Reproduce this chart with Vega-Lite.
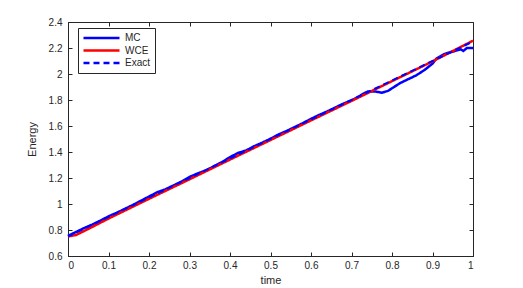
{
  "$schema": "https://vega.github.io/schema/vega-lite/v6.json",
  "width": 405,
  "height": 234,
  "autosize": {"type": "none"},
  "padding": {"left": 68, "top": 22, "right": 50, "bottom": 32},
  "background": "white",
  "config": {
    "font": "Liberation Sans",
    "view": {"stroke": "#262626", "strokeWidth": 1},
    "axis": {
      "grid": false,
      "domainColor": "#262626",
      "tickColor": "#262626",
      "labelColor": "#262626",
      "titleColor": "#262626",
      "labelFontSize": 10,
      "titleFontSize": 11,
      "titleFontWeight": "normal",
      "tickSize": -4,
      "labelFont": "Liberation Sans",
      "titleFont": "Liberation Sans"
    }
  },
  "data": {
    "values": [
      {"t": 0, "E": 0.755, "series": "MC"},
      {"t": 0.02, "E": 0.785, "series": "MC"},
      {"t": 0.04, "E": 0.815, "series": "MC"},
      {"t": 0.06, "E": 0.842, "series": "MC"},
      {"t": 0.08, "E": 0.872, "series": "MC"},
      {"t": 0.10, "E": 0.905, "series": "MC"},
      {"t": 0.12, "E": 0.932, "series": "MC"},
      {"t": 0.14, "E": 0.962, "series": "MC"},
      {"t": 0.16, "E": 0.992, "series": "MC"},
      {"t": 0.18, "E": 1.025, "series": "MC"},
      {"t": 0.20, "E": 1.057, "series": "MC"},
      {"t": 0.22, "E": 1.09, "series": "MC"},
      {"t": 0.24, "E": 1.112, "series": "MC"},
      {"t": 0.26, "E": 1.142, "series": "MC"},
      {"t": 0.28, "E": 1.172, "series": "MC"},
      {"t": 0.30, "E": 1.208, "series": "MC"},
      {"t": 0.32, "E": 1.235, "series": "MC"},
      {"t": 0.34, "E": 1.258, "series": "MC"},
      {"t": 0.36, "E": 1.29, "series": "MC"},
      {"t": 0.38, "E": 1.322, "series": "MC"},
      {"t": 0.40, "E": 1.36, "series": "MC"},
      {"t": 0.42, "E": 1.393, "series": "MC"},
      {"t": 0.44, "E": 1.412, "series": "MC"},
      {"t": 0.46, "E": 1.445, "series": "MC"},
      {"t": 0.48, "E": 1.472, "series": "MC"},
      {"t": 0.50, "E": 1.502, "series": "MC"},
      {"t": 0.52, "E": 1.535, "series": "MC"},
      {"t": 0.54, "E": 1.562, "series": "MC"},
      {"t": 0.56, "E": 1.592, "series": "MC"},
      {"t": 0.58, "E": 1.622, "series": "MC"},
      {"t": 0.60, "E": 1.655, "series": "MC"},
      {"t": 0.62, "E": 1.685, "series": "MC"},
      {"t": 0.64, "E": 1.712, "series": "MC"},
      {"t": 0.66, "E": 1.742, "series": "MC"},
      {"t": 0.68, "E": 1.772, "series": "MC"},
      {"t": 0.70, "E": 1.797, "series": "MC"},
      {"t": 0.72, "E": 1.83, "series": "MC"},
      {"t": 0.73, "E": 1.85, "series": "MC"},
      {"t": 0.74, "E": 1.865, "series": "MC"},
      {"t": 0.76, "E": 1.865, "series": "MC"},
      {"t": 0.775, "E": 1.856, "series": "MC"},
      {"t": 0.79, "E": 1.87, "series": "MC"},
      {"t": 0.80, "E": 1.89, "series": "MC"},
      {"t": 0.82, "E": 1.93, "series": "MC"},
      {"t": 0.84, "E": 1.96, "series": "MC"},
      {"t": 0.86, "E": 1.99, "series": "MC"},
      {"t": 0.88, "E": 2.03, "series": "MC"},
      {"t": 0.90, "E": 2.08, "series": "MC"},
      {"t": 0.91, "E": 2.12, "series": "MC"},
      {"t": 0.93, "E": 2.155, "series": "MC"},
      {"t": 0.95, "E": 2.172, "series": "MC"},
      {"t": 0.97, "E": 2.19, "series": "MC"},
      {"t": 0.976, "E": 2.177, "series": "MC"},
      {"t": 0.985, "E": 2.2, "series": "MC"},
      {"t": 1.0, "E": 2.2, "series": "MC"},
      {"t": 0, "E": 0.75, "series": "WCE"},
      {"t": 0.02, "E": 0.762, "series": "WCE"},
      {"t": 0.05, "E": 0.808, "series": "WCE"},
      {"t": 0.1, "E": 0.888, "series": "WCE"},
      {"t": 0.2, "E": 1.04, "series": "WCE"},
      {"t": 0.3, "E": 1.19, "series": "WCE"},
      {"t": 0.4, "E": 1.342, "series": "WCE"},
      {"t": 0.5, "E": 1.492, "series": "WCE"},
      {"t": 0.6, "E": 1.643, "series": "WCE"},
      {"t": 0.7, "E": 1.793, "series": "WCE"},
      {"t": 0.8, "E": 1.945, "series": "WCE"},
      {"t": 0.9, "E": 2.097, "series": "WCE"},
      {"t": 1.0, "E": 2.256, "series": "WCE"},
      {"t": 0, "E": 0.75, "series": "Exact"},
      {"t": 1, "E": 2.25, "series": "Exact"}
    ]
  },
  "encoding": {
    "x": {"field": "t", "type": "quantitative", "title": "time",
      "scale": {"domain": [0, 1], "nice": false},
      "axis": {"values": [0, 0.1, 0.2, 0.3, 0.4, 0.5, 0.6, 0.7, 0.8, 0.9, 1], "format": "~g", "labelPadding": 8, "titlePadding": 4}},
    "y": {"field": "E", "type": "quantitative", "title": "Energy",
      "scale": {"domain": [0.6, 2.4], "nice": false, "zero": false},
      "axis": {"values": [0.6, 0.8, 1, 1.2, 1.4, 1.6, 1.8, 2, 2.2, 2.4], "format": "~g", "labelPadding": 10, "titlePadding": 11}},
    "color": {"field": "series", "type": "nominal",
      "scale": {"domain": ["MC", "WCE", "Exact"], "range": ["#0000ff", "#ff0000", "#0000ff"]},
      "legend": {"title": null, "orient": "none", "legendX": 10, "legendY": 6,
        "symbolType": "stroke", "symbolSize": 1296, "symbolStrokeWidth": 2.5, "clipHeight": 12,
        "labelFontSize": 10, "labelColor": "#262626", "labelFont": "Liberation Sans",
        "strokeColor": "#262626", "fillColor": "white", "padding": 4, "rowPadding": 0.5, "labelOffset": 4}},
    "strokeDash": {"field": "series", "type": "nominal",
      "scale": {"domain": ["MC", "WCE", "Exact"], "range": [[1, 0], [1, 0], [6, 4]]},
      "legend": null}
  },
  "layer": [
    {
      "layer": [
        {"transform": [{"filter": "datum.series === 'MC'"}], "mark": {"type": "line", "strokeWidth": 2.5}},
        {"transform": [{"filter": "datum.series === 'WCE'"}], "mark": {"type": "line", "strokeWidth": 2.5}},
        {"transform": [{"filter": "datum.series === 'Exact'"}], "mark": {"type": "line", "strokeWidth": 2}}
      ]
    },
    {
      "transform": [{"filter": "datum.series === 'Exact'"}],
      "mark": {"type": "line", "opacity": 0},
      "encoding": {
        "x": {"field": "t", "type": "quantitative",
          "axis": {"orient": "top", "values": [0, 0.1, 0.2, 0.3, 0.4, 0.5, 0.6, 0.7, 0.8, 0.9, 1], "labels": false, "title": null, "domain": false}},
        "y": {"field": "E", "type": "quantitative",
          "axis": {"orient": "right", "values": [0.6, 0.8, 1, 1.2, 1.4, 1.6, 1.8, 2, 2.2, 2.4], "labels": false, "title": null, "domain": false}}
      }
    }
  ],
  "resolve": {"axis": {"x": "independent", "y": "independent"}}
}
